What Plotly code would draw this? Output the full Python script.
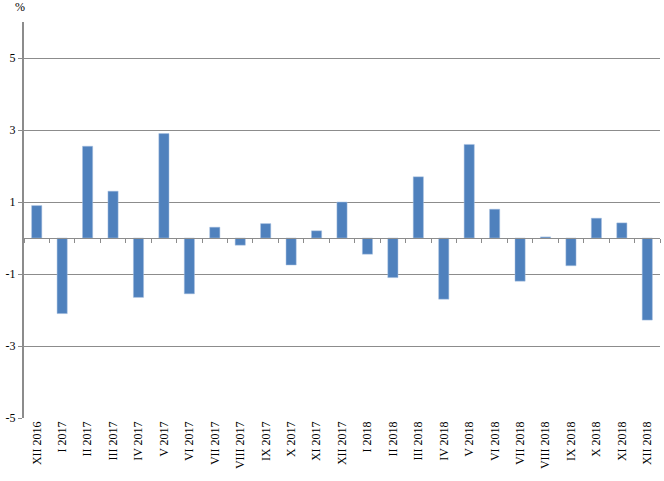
import plotly.graph_objects as go

categories = ["XII 2016", "I 2017", "II 2017", "III 2017", "IV 2017", "V 2017", "VI 2017",
              "VII 2017", "VIII 2017", "IX 2017", "X 2017", "XI 2017", "XII 2017",
              "I 2018", "II 2018", "III 2018", "IV 2018", "V 2018", "VI 2018",
              "VII 2018", "VIII 2018", "IX 2018", "X 2018", "XI 2018", "XII 2018"]
values = [0.9, -2.1, 2.55, 1.3, -1.65, 2.9, -1.55, 0.3, -0.2, 0.4, -0.75, 0.2, 1.0,
          -0.45, -1.1, 1.7, -1.7, 2.6, 0.8, -1.2, 0.03, -0.77, 0.55, 0.42, -2.28]
y_tickvals = [-5, -3, -1, 1, 3, 5]
y_ticktext = ["-5", "-3", "-1", "1", "3", "5"]

font_family = "Liberation Serif"
grid_color = "#8c8c8c"

fig = go.Figure()
fig.add_trace(go.Bar(x=categories, y=values, marker=dict(color="#4f81bd",
                     line=dict(color="#a9c1e0", width=0.5)), width=0.4, xaxis="x", yaxis="y"))
fig.add_trace(go.Scatter(x=categories, y=[0] * len(categories), mode="markers",
                         marker=dict(opacity=0), hoverinfo="skip", xaxis="x2", yaxis="y"))

xrange = [-0.5, len(categories) - 0.5]

fig.update_layout(
    width=664, height=481,
    margin=dict(l=24, r=4, t=22, b=63, autoexpand=False),
    paper_bgcolor="white", plot_bgcolor="white",
    showlegend=False,
    font=dict(family=font_family, size=11, color="black"),
    xaxis=dict(type="category", range=xrange, tickangle=-90, showgrid=False, showline=False,
               ticks="", tickfont=dict(family=font_family, size=12), zeroline=False,
               automargin=False, ticklabelstandoff=0),
    xaxis2=dict(type="category", range=xrange, overlaying="x", anchor="free", position=5 / 11,
                showline=True, linecolor=grid_color, linewidth=1, ticks="outside",
                tickson="boundaries", ticklen=4, tickcolor=grid_color, showticklabels=False,
                showgrid=False, zeroline=False, automargin=False),
    yaxis=dict(range=[-5, 6], tickvals=y_tickvals, ticktext=y_ticktext, showgrid=True,
               gridcolor=grid_color, gridwidth=1, showline=True, linecolor=grid_color,
               linewidth=2, ticks="outside", ticklen=4, tickcolor=grid_color, zeroline=False,
               tickfont=dict(family=font_family, size=12), automargin=False),
    annotations=[dict(text="%", xref="paper", yref="paper", x=-0.006, y=1.015, xanchor="center",
                      yanchor="bottom", showarrow=False, font=dict(family=font_family, size=12))],
)

fig.write_html("out.html", config={"displayModeBar": False},
               post_script="document.body.style.margin='0';document.body.style.padding='0';")
